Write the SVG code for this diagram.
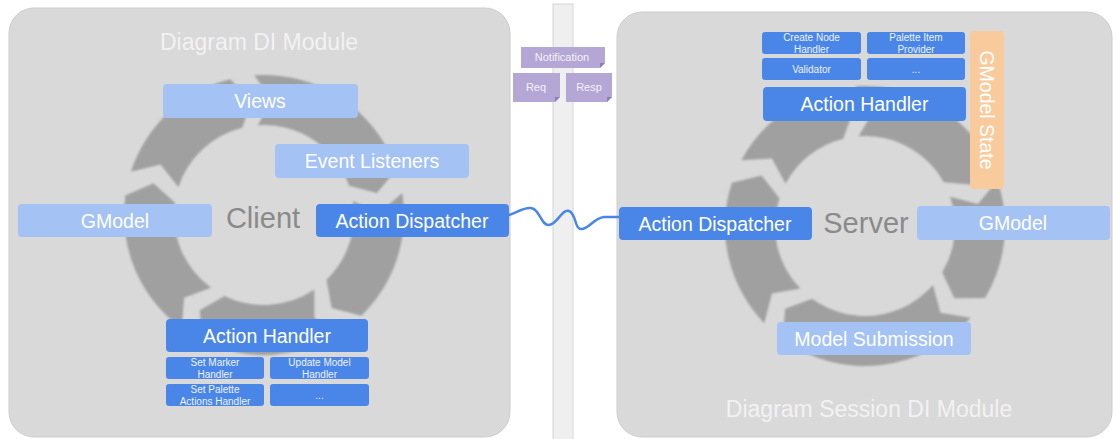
<svg xmlns="http://www.w3.org/2000/svg" width="1117" height="439" viewBox="0 0 1117 439">
<defs>
<filter id="soft" x="-5%" y="-5%" width="110%" height="110%"><feGaussianBlur stdDeviation="0.8"/></filter>
</defs>
<style>
.panel{fill:#d9d9d9;stroke:#cdcdcd;stroke-width:1}
.ring{fill:#a0a0a0}
.lb{fill:#a4c2f4}
.db{fill:#4a86e8}
.or{fill:#f9cb9c}
.pu{fill:#b4a7d6}
.fold{fill:#8e80b8}
.t{font-family:"Liberation Sans",Arial,sans-serif;fill:#ffffff;text-anchor:middle}
.title{font-size:23px;fill:#f2f2f2}
.mid{font-size:19.5px}
.small{font-size:10px;fill:#eef3fd}
.msg{font-size:11px;fill:#f4f1fa}
.big{font-size:29px;fill:#8a8a8a}
.wire{fill:none;stroke:#4a86e8;stroke-width:2.5;stroke-linecap:round}
</style>
<rect width="1117" height="439" fill="#ffffff"/>

<g id="client-panel">
<rect class="panel" x="9" y="8" width="501" height="429" rx="25"/>
<text class="t title" x="259" y="50">Diagram DI Module</text>
</g>

<g id="channel">
<rect x="553" y="4" width="20" height="436" fill="#efefef" stroke="#d6d6d6" stroke-width="1"/>
</g>

<g id="server-panel">
<rect class="panel" x="617" y="12" width="495" height="425" rx="25"/>
<text class="t title" x="869" y="417">Diagram Session DI Module</text>
</g>

<g id="client-cycle" class="ring" filter="url(#soft)">
<path d="M130.85,171.74 A140,140 0 0 1 230.13,79.16 L251.98,100.63 L242.23,127.67 A90,90 0 0 0 178.40,187.19 L160.64,164.58 Z"/>
<path d="M254.23,75.34 A140,140 0 0 1 396.37,169.42 L376.88,193.06 L349.10,185.70 A90,90 0 0 0 257.72,125.22 L272.03,100.28 Z"/>
<path d="M402.28,193.10 A140,140 0 0 1 361.26,315.70 L331.60,308.04 L326.52,279.74 A90,90 0 0 0 352.89,200.92 L378.98,212.99 Z"/>
<path d="M342.29,331.06 A140,140 0 0 1 202.62,340.83 L199.69,310.34 L224.54,295.89 A90,90 0 0 0 314.33,289.61 L314.42,318.36 Z"/>
<path d="M181.71,328.26 A140,140 0 0 1 125.36,195.51 L153.45,183.31 L174.87,202.47 A90,90 0 0 0 211.10,287.81 L184.11,297.72 Z"/>
</g>

<g id="server-cycle" class="ring" filter="url(#soft)">
<path d="M741.39,160.27 A140,140 0 0 1 831.13,90.16 L852.98,111.63 L843.23,138.67 A90,90 0 0 0 785.54,183.74 L771.96,158.40 Z"/>
<path d="M855.23,86.34 A140,140 0 0 1 987.44,158.13 L972.36,184.78 L943.71,182.37 A90,90 0 0 0 858.72,136.22 L873.03,111.28 Z"/>
<path d="M997.37,180.42 A140,140 0 0 1 985.01,298.10 L954.37,298.37 L942.15,272.35 A90,90 0 0 0 950.10,196.70 L977.88,204.06 Z"/>
<path d="M970.66,317.85 A140,140 0 0 1 782.71,339.26 L785.11,308.72 L812.10,298.81 A90,90 0 0 0 932.92,285.05 L940.45,312.79 Z"/>
<path d="M764.30,323.26 A140,140 0 0 1 731.85,182.74 L761.64,175.58 L779.40,198.19 A90,90 0 0 0 800.26,288.52 L771.96,293.60 Z"/>
</g>

<g id="connectors">
<path class="wire" d="M509,215 C518,212 524,207 531,208 C540,209 541,226 549,225 C558,224 562,208 569,211 C577,214 574,230 582,229 C590,228 594,218 604,217 L620,217"/>
</g>

<g id="client-label"><text class="t big" x="263" y="228">Client</text></g>
<g id="server-label"><text class="t big" x="866" y="233">Server</text></g>

<g id="views"><rect class="lb" x="163" y="84" width="195" height="34" rx="4"/><text class="t mid" x="260" y="108">Views</text></g>
<g id="event-listeners"><rect class="lb" x="275" y="144" width="194" height="34" rx="4"/><text class="t mid" x="372" y="168">Event Listeners</text></g>
<g id="client-gmodel"><rect class="lb" x="18" y="204" width="194" height="33" rx="4"/><text class="t mid" x="115" y="228">GModel</text></g>
<g id="client-dispatcher"><rect class="db" x="316" y="204" width="193" height="33" rx="4"/><text class="t mid" x="412" y="228">Action Dispatcher</text></g>
<g id="client-handler"><rect class="db" x="166" y="319" width="202" height="33" rx="4"/><text class="t mid" x="267" y="343">Action Handler</text></g>
<g id="set-marker"><rect class="db" x="166" y="357" width="98" height="22" rx="3"/><text class="t small" x="215" y="366">Set Marker</text><text class="t small" x="215" y="377.5">Handler</text></g>
<g id="update-model"><rect class="db" x="270" y="357" width="99" height="22" rx="3"/><text class="t small" x="319.5" y="366">Update Model</text><text class="t small" x="319.5" y="377.5">Handler</text></g>
<g id="set-palette"><rect class="db" x="166" y="384" width="98" height="22" rx="3"/><text class="t small" x="215" y="393">Set Palette</text><text class="t small" x="215" y="404.5">Actions Handler</text></g>
<g id="client-more"><rect class="db" x="270" y="384" width="99" height="22" rx="3"/><text class="t small" x="319.5" y="399">...</text></g>

<g id="notification"><path class="pu" d="M521,47 H605 V63 L600,68 H521 Z"/><path class="fold" d="M600,68 L600,63 L605,63 Z"/><text class="t msg" x="562" y="61">Notification</text></g>
<g id="req"><path class="pu" d="M513,73 H560 V97 L555,102 H513 Z"/><path class="fold" d="M555,102 L555,97 L560,97 Z"/><text class="t msg" x="536" y="91">Req</text></g>
<g id="resp"><path class="pu" d="M566,73 H612 V97 L607,102 H566 Z"/><path class="fold" d="M607,102 L607,97 L612,97 Z"/><text class="t msg" x="589" y="91">Resp</text></g>

<g id="create-node"><rect class="db" x="762" y="32" width="99" height="22" rx="3"/><text class="t small" x="811.5" y="41">Create Node</text><text class="t small" x="811.5" y="52.5">Handler</text></g>
<g id="palette-item"><rect class="db" x="867" y="32" width="98" height="22" rx="3"/><text class="t small" x="916" y="41">Palette Item</text><text class="t small" x="916" y="52.5">Provider</text></g>
<g id="validator"><rect class="db" x="762" y="58" width="99" height="22" rx="3"/><text class="t small" x="811.5" y="72.5">Validator</text></g>
<g id="server-more"><rect class="db" x="867" y="58" width="98" height="22" rx="3"/><text class="t small" x="916" y="72.5">...</text></g>
<g id="server-handler"><rect class="db" x="763" y="87" width="203" height="34" rx="4"/><text class="t mid" x="864.5" y="111">Action Handler</text></g>
<g id="gmodel-state"><rect class="or" x="970" y="31" width="34" height="158" rx="4"/><text class="t mid" transform="translate(980,110) rotate(90)" x="0" y="0">GModel State</text></g>
<g id="server-dispatcher"><rect class="db" x="619" y="207" width="193" height="33" rx="4"/><text class="t mid" x="715" y="231">Action Dispatcher</text></g>
<g id="server-gmodel"><rect class="lb" x="917" y="206" width="193" height="34" rx="4"/><text class="t mid" x="1013" y="230">GModel</text></g>
<g id="model-submission"><rect class="lb" x="777" y="322" width="194" height="33" rx="4"/><text class="t mid" x="874" y="346">Model Submission</text></g>
</svg>
